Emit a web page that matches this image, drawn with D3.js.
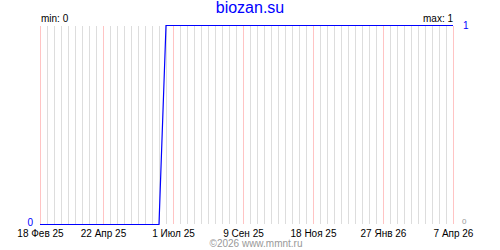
<!DOCTYPE html>
<html>
<head>
<meta charset="utf-8">
<script src="https://cdn.jsdelivr.net/npm/d3@7"></script>
<style>
  body { margin: 0; background: #fff; }
  svg { display: block; font-family: "Liberation Sans", Arial, sans-serif; }
</style>
</head>
<body>
<svg width="500" height="250"></svg>
<script>
// data
const dates = ["2025-02-18", "2025-06-17", "2025-06-24", "2026-04-07"];
const values = [0, 0, 1, 1];
const tickDates = ["2025-02-18", "2025-04-22", "2025-07-01", "2025-09-09", "2025-11-18", "2026-01-27", "2026-04-07"];
const tickLabels = ["18 Фев 25", "22 Апр 25", "1 Июл 25", "9 Сен 25", "18 Ноя 25", "27 Янв 26", "7 Апр 26"];
const title = "biozan.su";
const footer = "©2026 www.mmnt.ru";

const svg = d3.select("svg");
const parse = d3.utcParse("%Y-%m-%d");

const plotLeft = 40, plotRight = 453, plotTop = 25, plotBottom = 224;

const x = d3.scaleUtc()
  .domain([parse(dates[0]), parse(dates[dates.length - 1])])
  .range([plotLeft, plotRight]);

const y = d3.scaleLinear()
  .domain([0, 1])
  .range([plotBottom, plotTop]);

// weekly grid
const weeks = d3.utcTuesday.range(x.domain()[0], d3.utcDay.offset(x.domain()[1], 1));
const redSet = new Set(tickDates);

svg.append("g")
  .selectAll("line")
  .data(weeks.filter(d => !redSet.has(d3.utcFormat("%Y-%m-%d")(d))))
  .enter()
  .append("line")
  .attr("x1", d => Math.round(x(d)) + 0.5)
  .attr("x2", d => Math.round(x(d)) + 0.5)
  .attr("y1", plotTop + 1)
  .attr("y2", plotBottom)
  .attr("stroke", "#dddddd");

svg.append("g")
  .selectAll("line")
  .data(tickDates.map(parse))
  .enter()
  .append("line")
  .attr("x1", d => Math.round(x(d)) + 0.5)
  .attr("x2", d => Math.round(x(d)) + 0.5)
  .attr("y1", plotTop + 1)
  .attr("y2", plotBottom)
  .attr("stroke", "#ffc4c4");

// x labels
svg.append("g")
  .selectAll("text")
  .data(tickDates)
  .enter()
  .append("text")
  .attr("x", d => x(parse(d)) + 0.5)
  .attr("y", 237)
  .attr("text-anchor", "middle")
  .attr("font-size", 10)
  .attr("fill", "#000")
  .text((d, i) => tickLabels[i]);

// series
const pts = dates.map((d, i) => [parse(d), values[i]]);
svg.append("path")
  .datum(pts)
  .attr("fill", "none")
  .attr("stroke", "#0000ff")
  .attr("stroke-width", 1.2)
  .attr("d", d3.line().x(d => x(d[0])).y(d => y(d[1]) + 0.5));

// texts
svg.append("text")
  .attr("x", 250)
  .attr("y", 13)
  .attr("text-anchor", "middle")
  .attr("font-size", 16)
  .attr("fill", "#0000ff")
  .text(title);

svg.append("text")
  .attr("x", 41)
  .attr("y", 22)
  .attr("font-size", 10)
  .text("min: " + d3.min(values));

svg.append("text")
  .attr("x", plotRight)
  .attr("y", 22)
  .attr("text-anchor", "end")
  .attr("font-size", 10)
  .text("max: " + d3.max(values));

svg.append("text")
  .attr("x", 463)
  .attr("y", 29)
  .attr("font-size", 10)
  .attr("fill", "#0000ff")
  .text(d3.max(values));

svg.append("text")
  .attr("x", 33)
  .attr("y", 226)
  .attr("text-anchor", "end")
  .attr("font-size", 10)
  .attr("fill", "#0000ff")
  .text(d3.min(values));

svg.append("text")
  .attr("x", 462)
  .attr("y", 224)
  .attr("font-size", 8)
  .attr("fill", "#999")
  .text("0");

svg.append("text")
  .attr("x", 256)
  .attr("y", 247)
  .attr("text-anchor", "middle")
  .attr("font-size", 10)
  .attr("fill", "#999")
  .text(footer);
</script>
</body>
</html>
